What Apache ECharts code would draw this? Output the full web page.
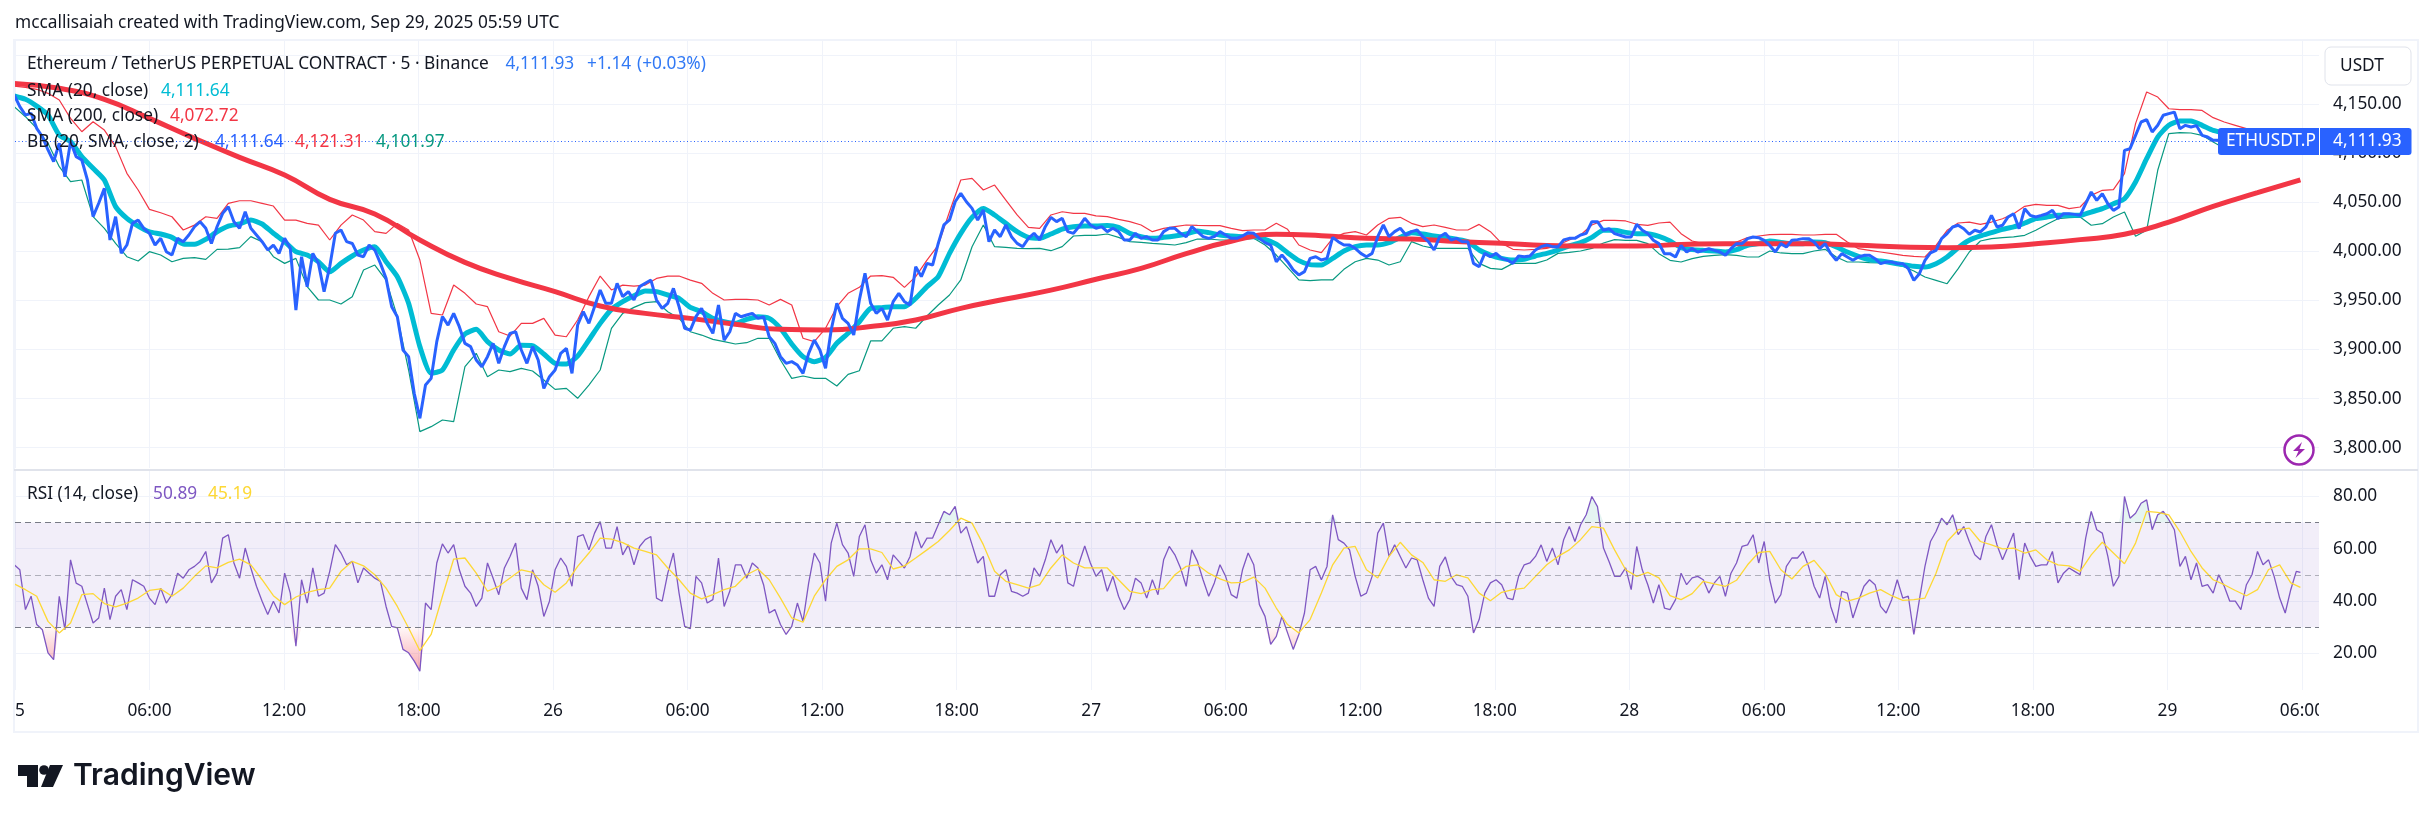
<!DOCTYPE html>
<html>
<head>
<meta charset="utf-8">
<style>html,body{margin:0;padding:0;background:#fff}#c{width:2433px;height:822px}</style>
<script src="https://cdn.jsdelivr.net/npm/echarts@6/dist/echarts.min.js"></script>
</head>
<body>
<div id="c"></div>
<script>
// Time of each reading, in hours after Sep 25 00:00. q counts quarter-hour readings.
const lastHour = 101.93;
const readingHour = q => Math.min(lastHour, q < 282 ? q * 0.2513 - 0.036 : 1.137 + q * 0.2472);
const priceStep = 1, bandStep = 2, slowStep = 8;

const timeTicks = [0,6,12,18,24,30,36,42,48,54,60,66,72,78,84,90,96,102];
const timeLabels = ['5','06:00','12:00','18:00','26','06:00','12:00','18:00','27','06:00','12:00','18:00','28','06:00','12:00','18:00','29','06:00'];
const priceTicks = [3800,3850,3900,3950,4000,4050,4100,4150,4200];
const priceLabelTicks = [3800,3850,3900,3950,4000,4050,4100,4150];
const rsiTicks = [20,40,60,80];

const price = [
4159.2,4147.3,4138.8,4140.5,4125.2,4116.7,4103.2,4091.3,4110,4076,4111.7,4096.4,4093,4072.6,4035.3,4048.9,4064.1,4011.5,4035.3,3998,
4006.4,4028.4,4031.8,4023.4,4018.3,4006.4,4013.2,3999.6,3996.2,4013.2,4009.8,4016.6,4025,4030.1,4023.4,4008,4025,4038.6,4045.4,4030.1,
4023.4,4040.3,4023.4,4016.6,4009.8,4001.3,4006.4,3997.9,4013.2,4003,3940.2,3994.5,3964,3997.9,3987.7,3958.9,3984.3,4018.3,4021.7,4009.8,
4008,3996.2,3994.5,4006.4,4001.3,3987.7,3972.4,3943.6,3933.4,3899.5,3892.7,3855.4,3829.9,3863.8,3870.6,3908,3933.4,3924.9,3936.8,3923.2,
3906.2,3902.9,3889.3,3882.5,3892.7,3906.2,3885.9,3902.9,3916.4,3918.1,3899.5,3885.9,3902.9,3889.3,3860.4,3872.3,3879.1,3896.1,3901.2,3875.7,
3924.9,3938.5,3926.6,3943.6,3960.6,3947,3947,3967.4,3953.8,3958.9,3950.4,3964,3967.4,3970.7,3950.4,3941.9,3947,3962.3,3943.6,3921.5,
3919.8,3933.4,3941.9,3926.6,3916.4,3945.3,3909.6,3918.1,3936.8,3933.4,3935.1,3936.8,3931.7,3933.4,3913,3906.2,3892.7,3885.9,3887.6,3884.2,
3875.7,3896.1,3909.7,3899.5,3880.8,3919.9,3947,3931.7,3926.6,3914.8,3950.4,3977.5,3947,3936.8,3941.9,3930,3948.7,3957.2,3948.7,3945.3,
3984.3,3974.2,3987.7,3986,4008.1,4026.8,4031.9,4050.5,4059,4050.5,4043.7,4031.9,4042,4009.8,4021.7,4014.9,4026.8,4014.9,4008.1,4004.7,
4013.2,4018.3,4011.5,4025.1,4034.6,4030.2,4033.6,4020,4018.3,4025.1,4033.6,4026.8,4023.4,4025.1,4020,4023.4,4020,4011.5,4011.5,4018.3,
4013.2,4014.9,4011.5,4011.5,4020,4023.4,4023.4,4018.3,4014.9,4025.1,4020,4014.9,4013.2,4014.9,4020,4016.6,4013.2,4013.2,4015.6,4019,
4018.3,4013.2,4008.8,4006.4,3989.4,3996.2,3989.4,3981,3975.9,3979.3,3992.8,3994.5,3991.1,3992.8,4014.2,4009.8,4006.4,4006.4,4003,3997.9,
3994.5,3997.9,4014.9,4026.8,4014.9,4020,4023.4,4016.6,4020,4021.7,4014.9,4009.8,4001.3,4014.9,4018.3,4011.5,4013.2,4009.8,4009.8,3987.7,
3984.3,3997.9,3994.5,3997.9,3992.8,3991.1,3987.7,3995.2,3994.5,3995.2,4001.3,4004.7,4006.4,4004.7,4004.7,4011.5,4013.2,4013.2,4016.6,4018.3,
4030.2,4030.2,4021.4,4023,4018,4016.3,4014.6,4014.6,4027.5,4021.4,4018,4011.2,4007.8,3997.6,3997.6,3994.2,4006,3999.3,4002.7,3999.3,
4001,4002.7,4001,3999.3,3995.9,4002.7,4007.8,4007.8,4012.9,4014.6,4013.9,4011.2,4006,3999.3,4007.8,4004.4,4011.2,4011.9,4012.9,4012.9,
4009.5,4002.7,4007.8,3997.6,3990.8,3997.6,3994.2,3990.8,3994.2,3995.9,3995.9,3992.5,3987.4,3989.1,3989.1,3987.4,3987.4,3982.3,3970.4,3977.2,
3990.8,3998.3,4001,4012.9,4018,4024.8,4026.5,4023,4017.3,4021.4,4019.7,4024.8,4036.6,4024.8,4026.5,4035,4038.3,4023,4043.4,4036.6,
4035,4036.6,4038.3,4041.7,4033.2,4038.3,4038.3,4037.6,4036.6,4048.5,4060.4,4051.9,4058.7,4048.5,4041.7,4045.1,4102.8,4104.5,4118.1,4131.7,
4134,4121.5,4128.3,4138.5,4140.2,4141.8,4124.9,4128.3,4126.6,4128,4118.1,4116.4,4113,4113,4114,4112,4112,4110,4108,4109,
4113,4116,4115,4114,4112,4110,4111,4112,4111.93
];

const bbUpper = [
4168.3,4167,4165,4160.9,4154.1,4135.4,4121.8,4132,4123.5,4106.6,4079.4,4062.4,4042.7,4039.3,4035.2,4021.7,4026.7,4035.2,4033.5,4048.8,
4051.5,4051.5,4048.8,4046.1,4031.8,4031.8,4028.4,4026.7,4011.5,4026.7,4036.9,4031.8,4020,4018.3,4028.4,4021.7,3991.1,3936.8,3935.1,3965.6,
3957.2,3946.3,3943.6,3918.1,3913.7,3926.6,3926.6,3931.7,3914.7,3913,3930,3953.8,3974.8,3960.6,3965.6,3964.6,3965.6,3972.4,3974.8,3974.8,
3970.7,3967.4,3957.2,3950.4,3951,3951,3950.4,3945.3,3951,3945.3,3911.4,3908,3921.6,3943.6,3957.2,3963.3,3974.8,3975.2,3973.5,3963.3,
3974.2,3991.1,4006.4,4040.3,4072.6,4074.3,4062.4,4067.5,4052.2,4037,4024.4,4023.4,4037,4040.3,4038.7,4038.7,4036,4035.3,4032.5,4030.2,
4026.8,4020,4023.4,4025.1,4026.8,4026.4,4026.1,4026.1,4023.4,4021,4021.7,4021.7,4028.5,4022.4,4006.4,4001.3,3998.6,4013.2,4018.3,4020,
4016.6,4026.8,4033.6,4034.6,4028.5,4025.1,4026.8,4024.4,4021.7,4021.7,4027.4,4020,4008.1,4002,4001.3,4002,4003,4006.4,4011.5,4016.6,
4026.8,4031.5,4031.5,4030.9,4027.5,4026.4,4028.8,4029.8,4018,4010.5,4007.8,4006,4006,4009.5,4013.9,4015.6,4017,4017.3,4017.3,4016.6,
4016.6,4017.3,4017.3,4009.5,4002.7,4001,3999.3,3997.6,3995.9,3994.9,3994.2,4006.1,4021.4,4028.8,4029.8,4027.5,4029.8,4033.2,4038.3,4045.8,
4047.8,4046.8,4046.8,4043.4,4045.1,4057,4062.1,4062.8,4079.1,4130,4162.2,4157.1,4145.2,4144.2,4144.2,4143.5,4136.1,4131.7,4128.3,4124.9,
4123.2,4124,4125,4123,4121.31
];

const bbLower = [
4147.3,4137.1,4125.2,4110,4086.2,4071,4072.6,4035.3,4023.4,4008,3994.5,3990.1,3999.6,3996.2,3989.4,3992.8,3993.5,3991.8,4002,4002.3,
4003.7,4014.9,4009.8,3994.5,3987.7,3992.8,3964,3950.4,3950.4,3946.3,3953.8,3980.9,3986,3970.7,3933.4,3879.1,3816.3,3821.4,3828.2,3826.5,
3882.5,3896.1,3872.3,3879.1,3877.4,3880.8,3878.1,3868.9,3859.4,3860.4,3850.3,3863.8,3879.1,3921.5,3936.8,3942.9,3947.7,3948.7,3938.5,3931.7,
3918.1,3914.7,3910.3,3908,3905.6,3906.9,3911.4,3911.4,3889.3,3870.6,3873,3870.6,3870.6,3862.8,3874.7,3878.4,3908.7,3908.7,3921.6,3923.3,
3921.6,3934.1,3945.3,3955.5,3970.8,4004.7,4026.8,4004.7,4004,4003,4002.7,4003,4000.6,4004.7,4015.6,4016.3,4016.3,4017.6,4014.2,4009.8,
4009.1,4008.1,4007.4,4006.4,4008.8,4012.5,4012.5,4011.5,4011.5,4012.5,4013.2,4006.4,3996.2,3983.7,3970.8,3970.1,3970.8,3970.8,3981.6,3989.4,
3992.8,3991.1,3986,3989.4,4009.8,4005.4,4003,4003,4003,4003,3987.7,3982.6,3981.6,3987.7,3987.7,3987.7,3991.1,3997.9,3999,4000.3,
4003,4008.5,4011.9,4011.2,4011.2,4007.8,3997.6,3990.8,3989.1,3992.5,3994.9,3995.9,3996.6,3995.9,3994.2,3994.2,4000.3,3998.3,3997.6,3997.6,
4000.3,4002,3994.2,3989.1,3989.1,3988.4,3988.1,3987.4,3984.7,3979.9,3973.8,3970.4,3967,3982.3,3999.3,4010.5,4012.9,4013.9,4014.6,4016.3,
4021.4,4027.5,4033.2,4034.3,4034.9,4026.5,4028.1,4034.9,4040,4015.3,4021.4,4082.5,4119.8,4120.8,4120.5,4118.1,4111.3,4105,4103,4102,
4102,4101.5,4101,4101,4101.97
];

const sma20 = [
4158.2,4154.8,4147.9,4138.8,4118.4,4111.7,4096.4,4084.5,4072.6,4045.5,4033.5,4025.7,4019.9,4017.6,4014.2,4007.4,4007.1,4012.2,4019.9,4025.7,
4027.8,4031.8,4027.8,4018.3,4009.8,3999.6,3996.2,3989.4,3979.2,3987.7,3995.2,4001.3,4004.7,3989.4,3974.1,3947,3902.9,3875.7,3879.1,3899.5,
3915.8,3920.5,3908,3899.5,3895.4,3904.2,3903.9,3895.4,3885.9,3885.2,3893.4,3909.7,3926.6,3940.9,3948.7,3954.8,3959.5,3958.9,3955.5,3952.1,
3942.9,3938.5,3931.7,3928.3,3926.6,3930.7,3933.4,3931.7,3921.5,3905.6,3892.7,3887.6,3892,3906.3,3916.5,3928.3,3941.9,3942.6,3943.6,3943.6,
3952.1,3964,3974.2,3997.9,4018.3,4034.6,4043.7,4037,4028.5,4020,4014.2,4013.2,4017.6,4022.7,4025.1,4025.8,4025.8,4026.4,4024.4,4018.3,
4014.9,4013.2,4014.2,4015.6,4017.6,4020.7,4019,4016.6,4015.6,4014.9,4014.9,4012.2,4007.4,3998.6,3990.5,3986.4,3986,3992.8,4000.3,4004.7,
4006.4,4006.4,4008.8,4014.2,4019,4017.6,4015.6,4014.2,4012.2,4009.8,4001.3,3996.2,3992.8,3991.1,3991.8,3995.2,3997.9,4001.3,4005.4,4008.8,
4014.2,4021.4,4021.4,4019.3,4018,4018,4015.2,4010.5,4003.7,4001.7,4001,4000.3,3999.3,4001.7,4006.1,4007.8,4010.5,4009.1,4007.8,4007.8,
4009.5,4008.8,4004.4,3999.3,3994.9,3991.5,3990.1,3988.4,3986.4,3984.7,3984,3987.4,3994.2,4003.7,4011.2,4015.6,4019,4022.4,4024.8,4028.8,
4033.2,4034.9,4036.6,4036.6,4036.6,4040,4043.4,4048.5,4053.6,4070.6,4094.3,4116.4,4128.3,4132.7,4132.7,4128.3,4123.2,4120.5,4118,4116,
4114,4113,4112.5,4112,4111.64
];

const sma200 = [
4171,4166,4154.8,4135.4,4115,4095.7,4077.7,4052.9,4038,4011.5,3988.7,3972.4,3958.9,3944.3,3936.8,3931.7,3925.6,3920.5,3919.9,3923.3,
3930,3941.9,3951.4,3960.4,3971.5,3982.6,3997.6,4010.3,4017.3,4015.9,4013.2,4012.5,4010.1,4008.1,4006,4005.4,4005.4,4006.8,4007.8,4007.8,
4007.8,4006.1,4004.4,4003.7,4004.4,4007.8,4011.9,4017.3,4029.8,4045.8,4059.7,4072.72
];

const rsi = [
53.8,51.9,36.7,41.8,31,29,20.2,17.6,41.8,29,55.7,46.8,45.6,38.6,31.6,33.5,44.9,32.9,41.8,44.3,
36.7,48.1,46.9,45.6,41.1,38.6,44.9,39.2,42.4,50.6,48.7,51.9,53.2,55.1,58.9,46.9,50.6,64,65.3,54.5,
48.7,60.2,52.6,45.6,39.9,34.8,39.9,35.4,50.6,43,22.7,48.1,39.2,52.6,41.8,43,51.3,61.5,58.3,53.8,
55.1,46.9,52.6,50.6,48.7,47.5,37.9,30.3,29.7,21.5,20.2,17,13.2,39.2,36.7,54.5,61.8,58.3,61.5,51.9,
45.6,43,37.9,41.1,54.5,48.7,42.4,52.6,57,62.1,44.9,40.5,51.9,45.6,34.1,39.9,51.9,56.4,53.2,45.6,
64.6,65.3,59.5,65.9,70.3,60.2,60.2,68.4,57.6,61.4,53.8,60.8,63.4,64.6,41.1,39.9,50.6,58.3,43,30.3,
29.4,49.4,46.9,39.2,40.5,56.4,37.9,43.7,53.8,53.8,48.7,54.5,52.6,46.2,35.4,36.7,31,27.2,30.3,39.2,
32.2,46.8,58.3,54.5,39.9,62.1,69.7,61.5,58.3,49.4,64.6,69.1,55.7,50.6,53.8,48.1,57.6,55.1,52.6,57,
66.5,60.2,64,64,69.1,74.2,72.9,76.1,65.9,68.4,61.5,54.5,57,41.8,41.8,50,51.9,43.7,43,41.8,
43,52.6,49.4,55.7,63.4,58.3,61.5,46.9,45.6,54.5,61,54.5,49.4,51.9,43.7,49.4,41.8,36.7,40.5,48.7,
46.9,41.1,48.1,42.4,55.7,60.8,57.6,52.6,45.6,59.5,55.1,48.1,41.8,46.9,53.8,49.4,42.4,41.1,51.9,58.3,
53.8,38.6,34.1,23.4,26.5,34.1,27.8,21.5,27.2,35.4,51.9,53.2,48.1,53.2,72.9,63.4,62.1,59.5,49.4,41.8,
43,49.4,65.9,69.7,57,61.4,57,52.6,56.4,55.7,48.1,41.1,37.9,53.2,56.8,49.4,46.2,45.6,41.8,27.8,
32.9,43,46.9,48.1,46.2,41.1,40.5,49.4,53.8,54.5,57,61.4,55.1,60.2,53.8,63.4,68.4,62.7,69.1,72.9,
79.9,76,60.2,55.1,49.4,49.4,52.6,44.3,60.8,51.9,46.2,39.2,46.2,37.3,36.7,40.5,50.6,46.2,48.8,49.4,
48.1,43,46.9,49.4,41.8,50.6,54.5,60.8,61.4,65.3,54.5,62.7,48.1,39.2,42.4,53.2,56.4,56.4,58.9,53.2,
45.6,41.1,49.4,37.9,31.6,43.7,43,33.5,39.9,45.6,48.1,46.2,37.9,35.4,40.5,48.1,41.1,41.8,27.2,40.5,
53.2,62.7,66.5,71.6,69.1,72.9,65.3,68.4,62.7,57.6,55.7,64.6,69.1,61.4,55.7,60.8,65.9,48.1,62.1,57,
53.2,53.8,53.8,58.9,46.9,50.6,52.6,51.3,50,64,74.2,67.2,65.9,57,45.6,49.4,79.9,71.6,73.5,77.3,
78.6,67.2,72.9,74.2,71,67.2,53.2,57,48.1,54.5,45.6,46.2,43,50,45.6,39.9,39.9,36.7,46.2,50,
58.9,53.8,55.7,49.4,41.1,35.4,44.3,51.3,50.89
];

const rsiMa = [
46.5,44.3,41.8,32.2,27.8,31.6,42.4,42.8,39,37.7,39.2,41.1,44,44.6,41.8,44.9,49.4,53.4,52.6,54.7,
56,53.8,48.1,42,38.6,41.5,43.3,44.3,44.9,51.3,55.1,53.4,50,44.9,37.9,29.7,21,27.2,41.8,56,
56.4,50.6,43.7,45.6,48.8,51.9,50.9,46.2,43.3,46.9,53.2,58.3,64,63.6,62.3,60.2,58.9,57.6,52.6,48.1,
43,40.8,42.4,44.3,45.6,50,52.2,48.1,41.1,33.5,31.9,41.8,48.1,53.2,55.7,59.9,59.9,58.5,52.2,53.4,
56.4,59.5,62.7,66.9,71.6,69.7,61.5,51.3,47.5,46.2,44.9,46.2,52.6,57.6,54.5,52.6,52.6,52.6,48.1,43.7,
42.8,44.3,44.7,50,53.2,53.8,50.6,48.4,46.9,47.1,49.1,44.9,37.3,31,27.8,32.9,43,53.8,60.2,60.8,
51.9,48.8,57,62.4,57.6,54.7,48.1,47.5,50,48.8,43,40.1,43.3,44.3,44.9,49.4,53.8,57,59.5,63.4,
68.4,67.8,59.5,51.9,49.4,50.9,48.8,42,40.5,42.8,47.5,46.5,45.6,47.9,53.8,58.5,58.9,51.9,48.4,53.2,
55.5,50.4,42.4,39.9,41.1,43,44.3,42,40.2,40.5,41.1,50.6,62.7,67.2,67.8,62.7,61.4,59.9,60.2,58.3,
59.5,55.7,53.8,53.4,51.3,57.6,62.4,58.3,54.2,62.1,74.2,73.8,72.9,66.5,58.9,52.6,48.1,46.2,44,42,
44.3,52,53.8,46.9,45.19
];

const lineBlue = '#2962ff', lineCyan = '#00bcd4', lineRed = '#f23645', lineGreen = '#089981';
const rsiPurple = '#7e57c2', rsiYellow = '#fdd835';
const gridColor = '#f0f3fa', textColor = '#131722';
const font = '"Noto Sans", sans-serif';
const fontPx = 17.3;

const hoursOf = (arr, step) => arr.map((v, i) => [readingHour(i * step), v]);

const chart = echarts.init(document.getElementById('c'), null, {renderer: 'canvas'});

const label = (text, x, y, fill, extra) => ({
  type: 'text', z: 100,
  style: Object.assign({text, x, y, fill, font: fontPx + 'px ' + font, textVerticalAlign: 'middle'}, extra || {})
});

const common = {type: 'line', symbol: 'none', silent: true, animation: false};

chart.setOption({
  animation: false,
  backgroundColor: '#fff',
  grid: [
    {left: 15, width: 2304, top: 40, height: 428},
    {left: 15, width: 2304, top: 470, height: 220}
  ],
  xAxis: [0, 1].map(g => ({
    type: 'value', gridIndex: g, min: 0, max: 102.76,
    axisLine: {show: false},
    axisTick: {show: false, customValues: timeTicks},
    splitLine: {show: true, lineStyle: {color: gridColor, width: 1}},
    axisLabel: g === 0 ? {show: false, customValues: timeTicks} : {
      show: true, customValues: timeTicks, margin: 13, color: textColor, fontSize: fontPx, fontFamily: font,
      hideOverlap: false, showMinLabel: true, showMaxLabel: true,
      formatter: v => {
        const t = timeLabels[timeTicks.indexOf(v)] || '';
        return v === 0 ? '{a|' + t + '}' : t;
      },
      rich: {a: {padding: [0, 0, 0, 10], color: textColor, fontSize: fontPx, fontFamily: font}}
    }
  })),
  yAxis: [
    {
      type: 'value', gridIndex: 0, position: 'right', min: 3779.3, max: 4215.2,
      axisLine: {show: false},
      axisTick: {show: false, customValues: priceTicks},
      splitLine: {show: true, lineStyle: {color: gridColor, width: 1}},
      axisLabel: {customValues: priceLabelTicks, margin: 14, color: textColor, fontSize: fontPx, fontFamily: font,
        formatter: v => v.toLocaleString('en-US', {minimumFractionDigits: 2})}
    },
    {
      type: 'value', gridIndex: 1, position: 'right', min: 6, max: 90,
      axisLine: {show: false},
      axisTick: {show: false, customValues: rsiTicks},
      splitLine: {show: true, lineStyle: {color: gridColor, width: 1}},
      axisLabel: {customValues: rsiTicks, margin: 14, color: textColor, fontSize: fontPx, fontFamily: font,
        formatter: v => v.toFixed(2)}
    }
  ],
  series: [
    Object.assign({}, common, {name: 'bbBase', stack: 'bb', data: hoursOf(bbLower, bandStep),
      lineStyle: {width: 0, opacity: 0}}),
    Object.assign({}, common, {name: 'bbFill', stack: 'bb', data: hoursOf(bbUpper.map((v, i) => v - bbLower[i]), bandStep),
      lineStyle: {width: 0, opacity: 0}, areaStyle: {color: 'rgba(33,150,243,0.05)'}}),
    Object.assign({}, common, {name: 'bbUpper', data: hoursOf(bbUpper, bandStep), lineStyle: {color: lineRed, width: 1.2}}),
    Object.assign({}, common, {name: 'bbLower', data: hoursOf(bbLower, bandStep), lineStyle: {color: lineGreen, width: 1.2}}),
    Object.assign({}, common, {name: 'sma20', data: hoursOf(sma20, bandStep), smooth: 0.2, lineStyle: {color: lineCyan, width: 5}}),
    Object.assign({}, common, {name: 'sma200', data: hoursOf(sma200, slowStep), smooth: 0.5, lineStyle: {color: lineRed, width: 5}}),
    Object.assign({}, common, {name: 'price', data: hoursOf(price, priceStep), lineStyle: {color: lineBlue, width: 3},
      markLine: {silent: true, symbol: 'none', animation: false, label: {show: false},
        lineStyle: {color: lineBlue, type: [1, 2.5], width: 1}, data: [{yAxis: 4111.93}]}}),

    Object.assign({}, common, {name: 'rsiLow', xAxisIndex: 1, yAxisIndex: 1,
      data: hoursOf(rsi.map(v => Math.min(v, 30)), priceStep), lineStyle: {width: 0, opacity: 0},
      areaStyle: {origin: 30, color: new echarts.graphic.LinearGradient(0, 0, 0, 1, [
        {offset: 0, color: 'rgba(242,54,69,0.05)'}, {offset: 1, color: 'rgba(242,54,69,0.6)'}])}}),
    Object.assign({}, common, {name: 'rsiHigh', xAxisIndex: 1, yAxisIndex: 1,
      data: hoursOf(rsi.map(v => Math.max(v, 70)), priceStep), lineStyle: {width: 0, opacity: 0},
      areaStyle: {origin: 70, color: 'rgba(8,153,129,0.15)'}}),
    Object.assign({}, common, {name: 'rsi', xAxisIndex: 1, yAxisIndex: 1, data: hoursOf(rsi, priceStep),
      lineStyle: {color: rsiPurple, width: 1.3},
      markArea: {silent: true, animation: false, itemStyle: {color: 'rgba(126,87,194,0.1)'}, data: [[{yAxis: 70}, {yAxis: 30}]]},
      markLine: {silent: true, symbol: 'none', animation: false, label: {show: false}, data: [
        {yAxis: 70, lineStyle: {color: '#787b86', type: [6, 4], width: 1.2}},
        {yAxis: 50, lineStyle: {color: 'rgba(120,123,134,0.55)', type: [6, 4], width: 1.2}},
        {yAxis: 30, lineStyle: {color: '#787b86', type: [6, 4], width: 1.2}}
      ]}}),
    Object.assign({}, common, {name: 'rsiMa', xAxisIndex: 1, yAxisIndex: 1, data: hoursOf(rsiMa, bandStep),
      lineStyle: {color: rsiYellow, width: 1.3}})
  ],
  graphic: [
    // frame
    {type: 'rect', z: 50, shape: {x: 14, y: 40, width: 2404, height: 692}, style: {fill: 'none', stroke: gridColor, lineWidth: 2}},
    {type: 'line', z: 50, shape: {x1: 14, y1: 470, x2: 2418, y2: 470}, style: {stroke: '#e0e3eb', lineWidth: 2}},
    // cover the time label past the plot's right edge
    {type: 'rect', z: 60, shape: {x: 2319, y: 692, width: 98, height: 38}, style: {fill: '#fff'}},

    label('mccallisaiah created with TradingView.com, Sep 29, 2025 05:59 UTC', 15, 23, textColor),

    label('Ethereum / TetherUS PERPETUAL CONTRACT · 5 · Binance', 27, 64, textColor),
    label('4,111.93', 505.6, 64, '#3179f5'),
    label('+1.14', 587, 64, '#3179f5'),
    label('(+0.03%)', 637, 64, '#3179f5'),
    label('SMA (20, close)', 27, 90.7, textColor),
    label('4,111.64', 161, 90.7, lineCyan),
    label('SMA (200, close)', 27, 116, textColor),
    label('4,072.72', 170, 116, lineRed),
    label('BB (20, SMA, close, 2)', 27, 142.3, textColor),
    label('4,111.64', 215, 142.3, lineBlue),
    label('4,121.31', 295, 142.3, lineRed),
    label('4,101.97', 376, 142.3, lineGreen),
    label('RSI (14, close)', 27, 494, textColor),
    label('50.89', 153, 494, rsiPurple),
    label('45.19', 208, 494, rsiYellow),

    // USDT button
    {type: 'rect', z: 90, shape: {x: 2325, y: 47, width: 86, height: 38, r: 6}, style: {fill: '#fff', stroke: '#e0e3eb', lineWidth: 1}},
    label('USDT', 2340, 66, textColor),

    // last price tag
    {type: 'rect', z: 90, shape: {x: 2218, y: 128, width: 101, height: 27, r: [3, 0, 0, 3]}, style: {fill: lineBlue}},
    {type: 'rect', z: 90, shape: {x: 2320, y: 128, width: 91.5, height: 27, r: [0, 3, 3, 0]}, style: {fill: lineBlue}},
    label('ETHUSDT.P', 2226, 141.5, '#fff'),
    label('4,111.93', 2333, 141.5, '#fff'),

    // alert icon
    {type: 'circle', z: 90, shape: {cx: 2299, cy: 450, r: 14.5}, style: {fill: '#fff', stroke: '#9c27b0', lineWidth: 2.5}},
    {type: 'polygon', z: 91, shape: {points: [[2302, 442], [2293, 451], [2298.5, 451], [2295.5, 458], [2305, 449], [2299.5, 449]]}, style: {fill: '#9c27b0'}},

    // TradingView mark and wordmark
    {type: 'polygon', z: 90, shape: {points: [[18, 765], [38, 765], [38, 787], [27, 787], [27, 776], [18, 776]]}, style: {fill: '#131722'}},
    {type: 'circle', z: 90, shape: {cx: 44, cy: 770, r: 4.8}, style: {fill: '#131722'}},
    {type: 'polygon', z: 90, shape: {points: [[50, 765], [63, 765], [53, 787], [41, 787]]}, style: {fill: '#131722'}},
    {type: 'text', z: 90, style: {text: 'TradingView', x: 73, y: 776, fill: '#131722', font: '600 30px Inter, sans-serif', textVerticalAlign: 'middle'}}
  ]
});
</script>
</body>
</html>
